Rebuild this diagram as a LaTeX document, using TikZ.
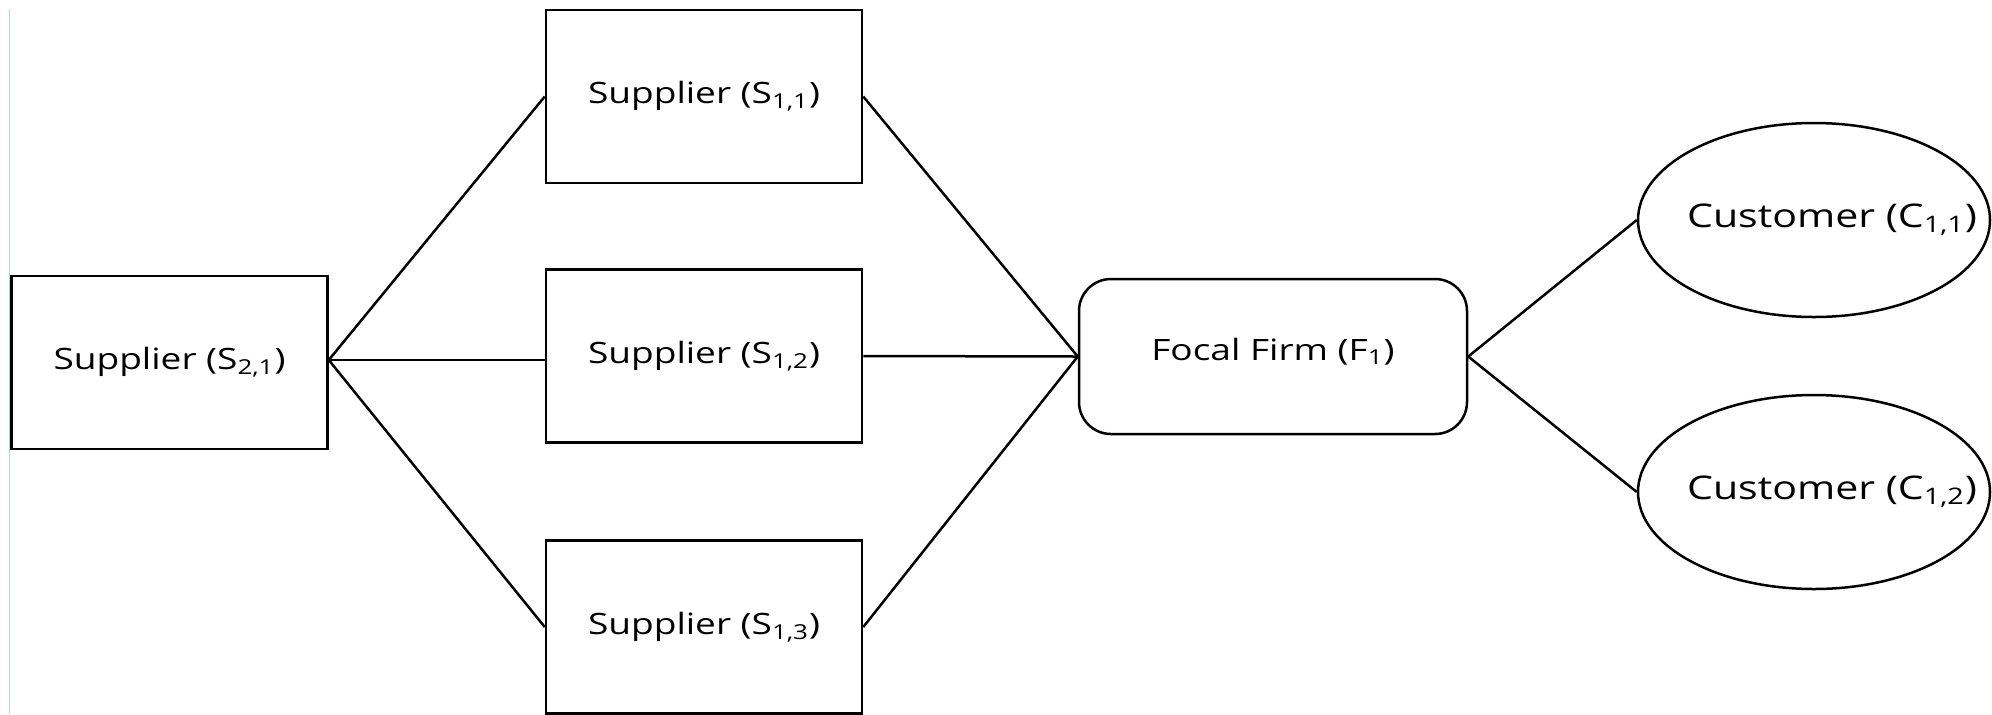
\documentclass[tikz,border=0pt]{standalone}
\usepackage{fontspec}
\setmainfont[FakeStretch=1.26]{Open Sans}
\usetikzlibrary{shapes.geometric}

\tikzset{
  base/.style={draw=black, line width=1.25pt, align=center, inner sep=0pt,
               font=\fontsize{14.7}{17}\selectfont},
  supplierbox/.style={base, rectangle, minimum width=158pt, minimum height=86.5pt},
  firmbox/.style={base, rectangle, rounded corners=16pt, minimum width=194pt, minimum height=77.5pt},
  customerbox/.style={base, ellipse, inner xsep=-45pt, inner ysep=-10pt,
                      minimum width=176pt, minimum height=97pt,
                      font=\fontsize{16.3}{19}\selectfont},
  link/.style={draw=black, line width=1.25pt},
}

\begin{document}
\begin{tikzpicture}[x=0.5pt, y=-0.5pt]
  % page frame
  \useasboundingbox (0,0) rectangle (1992,714);
  \fill[white] (0,0) rectangle (1992,714);

  % thin margin rule on the left
  \coordinate (ruletop) at (9.5,9);
  \coordinate (rulebot) at (9.5,714);
  \draw[color={rgb,255:red,175;green,215;blue,220}, line width=0.6pt] (ruletop) -- (rulebot);

  % tier-2 supplier
  \node[supplierbox] (s21) at (169.5,362.5) {Supplier (S\textsubscript{2,1})};

  % tier-1 suppliers
  \node[supplierbox] (s11) at (704,96.5) {Supplier (S\textsubscript{1,1})};
  \node[supplierbox] (s12) at (704,356)  {Supplier (S\textsubscript{1,2})};
  \node[supplierbox] (s13) at (704,627)  {Supplier (S\textsubscript{1,3})};

  % focal firm
  \node[firmbox] (f1) at (1273,356.5) {\raisebox{7.5pt}{Focal Firm (F\textsubscript{1})}};

  % customers (label sits a little right of centre)
  \node[customerbox] (c11) at (1814,220) {\hspace*{18pt}Customer (C\textsubscript{1,1})};
  \node[customerbox] (c12) at (1814,492) {\hspace*{18pt}Customer (C\textsubscript{1,2})};

  % fan-out point on the right side of the tier-2 supplier
  \coordinate (hub) at ([yshift=1.25pt]s21.east);

  % links
  \draw[link] (hub) -- (s11.west);
  \draw[link] (hub) -- (s12.west |- hub);
  \draw[link] (hub) -- (s13.west);
  \draw[link] (s11.east) -- (f1.west);
  \draw[link] (s12.east) -- (f1.west);
  \draw[link] (s13.east) -- (f1.west);
  \draw[link] (f1.east) -- (c11.west);
  \draw[link] (f1.east) -- (c12.west);
\end{tikzpicture}
\end{document}
